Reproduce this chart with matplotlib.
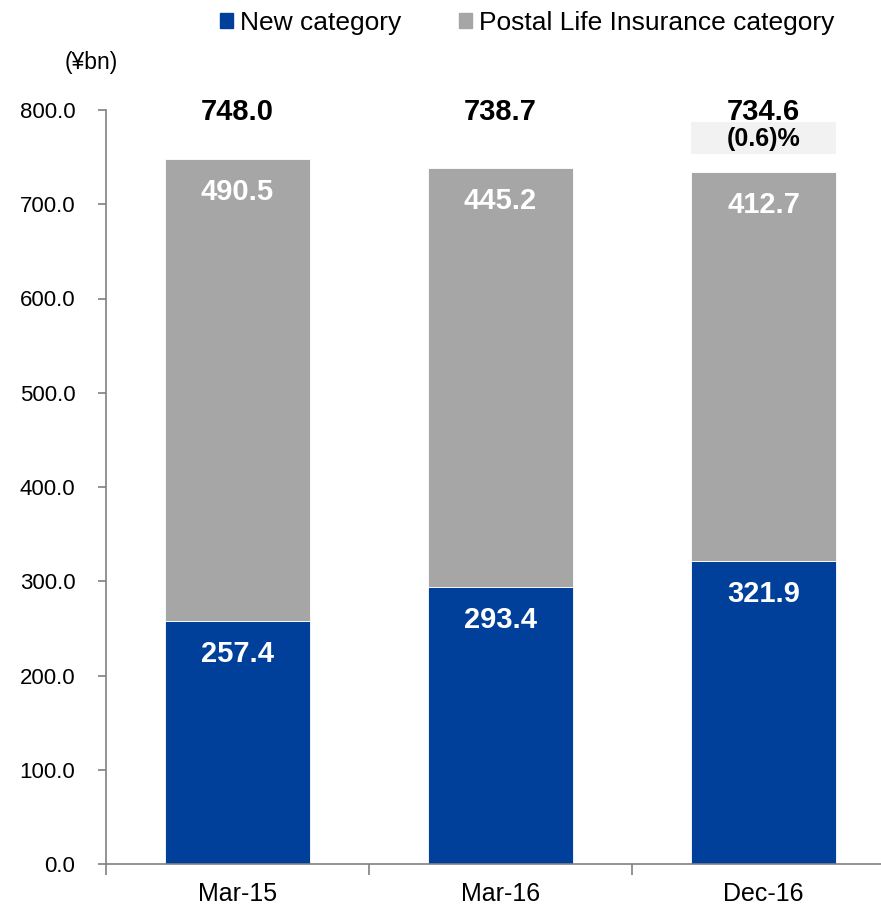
import numpy as np
import matplotlib.pyplot as plt
from matplotlib.patches import Patch

plt.rcParams['font.family'] = ['Liberation Sans', 'DejaVu Sans']

periods = ['Mar-15', 'Mar-16', 'Dec-16']
new_cat = [257.4, 293.4, 321.9]
postal_cat = [490.5, 445.2, 412.7]
totals = [748.0, 738.7, 734.6]
change_label = '(0.6)%'

blue = '#00409A'
grey = '#A6A6A6'

fig = plt.figure(figsize=(8.81, 9.08), dpi=100)
ax = fig.add_axes([106 / 881, 44 / 908, 789 / 881, 754 / 908])

x = np.arange(len(periods))
w = 0.555
ax.bar(x, new_cat, w, color=blue, edgecolor='white', linewidth=0.6)
ax.bar(x, postal_cat, w, bottom=new_cat, color=grey, edgecolor='white', linewidth=0.6)

# segment labels, sitting just under the top of each segment
for i in range(len(periods)):
    ax.text(x[i], new_cat[i] - 35, f'{new_cat[i]:.1f}', ha='center', va='center',
            color='white', fontsize=21, fontweight='bold')
    ax.text(x[i], totals[i] - 35, f'{postal_cat[i]:.1f}', ha='center', va='center',
            color='white', fontsize=21, fontweight='bold')
    ax.text(x[i], 798, f'{totals[i]:.1f}', ha='center', va='center',
            color='black', fontsize=21, fontweight='bold', clip_on=False)

# change box for the last period
ax.text(x[-1], 769, change_label, ha='center', va='center', color='black',
        fontsize=18, fontweight='bold', clip_on=False, zorder=3)
ax.bar(x[-1], 34, w, bottom=753, color='#F2F2F2', zorder=2, clip_on=False)

ax.set_xlim(-0.5, 2.5)
ax.set_ylim(0, 800)
ax.set_yticks(np.arange(0, 801, 100))
ax.set_yticklabels([f'{v:.1f}' for v in np.arange(0, 801, 100)])
ax.set_xticks(x)
ax.set_xticklabels(periods)
ax.set_xticks([-0.5, 0.5, 1.5, 2.5], minor=True)

for s in ['top', 'right']:
    ax.spines[s].set_visible(False)
for s in ['left', 'bottom']:
    ax.spines[s].set_color('#808080')
    ax.spines[s].set_linewidth(1.2)

ax.tick_params(axis='y', length=6, width=1.2, color='#808080', pad=16, labelsize=16)
ax.tick_params(axis='x', which='major', length=0, pad=13, labelsize=18)
ax.tick_params(axis='x', which='minor', length=8, width=1.2, color='#808080')

fig.text(65 / 881, 1 - 62 / 908, '(¥bn)', fontsize=16.5, va='center', ha='left')

handles = [Patch(color=blue, label='New category'),
           Patch(color=grey, label='Postal Life Insurance category')]
fig.legend(handles=handles, loc='center', bbox_to_anchor=(527 / 881, 1 - 23 / 908),
           ncol=2, frameon=False, fontsize=19, handlelength=0.5, handleheight=0.5,
           handletextpad=0.25, columnspacing=2.2, borderaxespad=0)

fig.savefig('out.png', dpi=100)
